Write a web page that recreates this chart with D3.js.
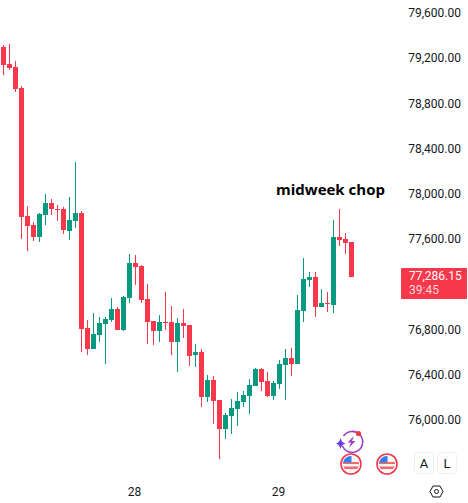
<!DOCTYPE html>
<html><head><meta charset="utf-8">
<script src="https://cdn.jsdelivr.net/npm/d3@7"></script>
<style>html,body{margin:0;padding:0;background:#fff}svg{display:block}text{font-family:Roboto,sans-serif}</style>
</head><body><div id="c"></div>
<script>
const opens=[79317,79167,79141,78955,77823,77744,77638,77832,77938,77885,77885,77691,77779,77850,76833,76648,76772,76869,76904,77001,76816,77099,77408,77382,77090,76895,76807,76887,76887,76710,76878,76860,76595,76621,76224,76374,76197,75941,76056,76117,76179,76232,76321,76471,76365,76232,76338,76506,76568,76515,76984,77258,77284,77019,77054,77037,77638,77620,77594];
const highs=[79335,79344,79194,78973,77912,77770,77850,78018,77974,77921,77903,77991,78301,77868,76904,76966,76931,76931,77099,77019,77116,77488,77479,77390,77222,76895,76948,77152,77028,76922,77001,76860,76692,76648,76418,76409,76197,76082,76206,76268,76277,76383,76480,76480,76445,76365,76551,76648,76657,77125,77452,77329,77329,77178,77152,77788,77885,77673,77594];
const lows=[79070,79114,78920,77620,77514,77602,77594,77744,77832,77779,77664,77611,77717,76621,76595,76648,76710,76515,76887,76816,76807,77054,77214,77054,76692,76683,76710,76816,76595,76445,76745,76498,76489,76135,76179,75985,75675,75852,75896,75967,76135,76073,76321,76277,76224,76197,76294,76197,76409,76515,76887,77196,76931,77019,76975,76966,77558,77488,77286.15];
const closes=[79158,79132,78946,77815,77735,77638,77841,77938,77885,77877,77700,77788,77850,76825,76648,76780,76878,76913,77001,76816,77108,77408,77373,77081,76887,76807,76887,76878,76710,76878,76851,76586,76621,76224,76374,76188,75941,76064,76126,76188,76241,76330,76471,76356,76232,76347,76515,76568,76515,76993,77267,77284,77019,77054,77046,77638,77611,77585,77286.15];
const priceTicks=[79600,79200,78800,78400,78000,77600,77200,76800,76400,76000];
const hiddenTick=77200;
const dateLabels=[{i:22,t:"28"},{i:46,t:"29"}];
const lastPrice=77286.15, countdown="39:45", note="midweek chop";
const W=468,H=503,UP="#089981",DOWN="#f7374a";

const svg=d3.select("#c").append("svg").attr("width",W).attr("height",H);
const x=d3.scaleLinear().domain([0,1]).range([3.5,9.5]);
const y=d3.scaleLinear().domain([79600,76000]).range([15,422.25]);
const fmt=d3.format(",.2f");
const col=i=>closes[i]>=opens[i]?UP:DOWN;

const g=svg.append("g").attr("shape-rendering","crispEdges");
const idx=d3.range(opens.length);
g.selectAll("rect.w").data(idx).join("rect").attr("class","w")
 .attr("x",i=>x(i)-0.5).attr("width",1)
 .attr("y",i=>Math.round(y(highs[i]))).attr("height",i=>Math.round(y(lows[i]))-Math.round(y(highs[i])))
 .attr("fill",col);
g.selectAll("rect.b").data(idx).join("rect").attr("class","b")
 .attr("x",i=>x(i)-2.5).attr("width",5)
 .attr("y",i=>Math.round(y(Math.max(opens[i],closes[i]))))
 .attr("height",i=>Math.max(1,Math.round(y(Math.min(opens[i],closes[i])))-Math.round(y(Math.max(opens[i],closes[i])))))
 .attr("fill",col);

// price axis labels
svg.append("g").selectAll("text").data(priceTicks.filter(t=>t!==hiddenTick)).join("text")
 .attr("x",461).attr("y",t=>y(t)+2).attr("text-anchor","end")
 .attr("font-size",12).attr("fill","#131722").text(fmt);

// date labels
svg.append("g").selectAll("text").data(dateLabels).join("text")
 .attr("x",d=>x(d.i)-1).attr("y",495.5).attr("text-anchor","middle")
 .attr("font-size",12).attr("fill","#131722").text(d=>d.t);

// annotation
svg.append("text").attr("x",276).attr("y",195).attr("font-size",15).attr("font-weight",700)
 .style("font-family","'Open Sans',sans-serif").attr("fill","#000").text(note);

// last price box
svg.append("rect").attr("x",401).attr("y",268).attr("width",66).attr("height",31).attr("rx",1).attr("fill",DOWN);
svg.append("text").attr("x",409).attr("y",279.5).attr("font-size",12).attr("font-weight",400).attr("fill","#fff").text(fmt(lastPrice));
svg.append("text").attr("x",409).attr("y",294).attr("font-size",12).attr("fill","#ffd5da").text(countdown);

// lightning badge
const ic=svg.append("g");
ic.append("path").attr("d","M343.5 436 A10.5 10.5 0 1 1 342.5 446").attr("fill","none").attr("stroke","#9c3fc4").attr("stroke-width",1.6);
ic.append("path").attr("d","M354 436 L347.5 442.5 L351 442.5 L349 447.5 L355.5 441 L352 441 Z").attr("fill","#9c3fc4");
ic.append("path").attr("d","M340.5 438 Q341.5 442.5 345.5 443.5 Q341.5 444.5 340.5 449 Q339.5 444.5 336 443.5 Q339.5 442.5 340.5 438Z").attr("fill","#6a3de8");
ic.append("circle").attr("cx",358.5).attr("cy",433.5).attr("r",2.6).attr("fill","#f23645");

// flags
[351,387].forEach(cx=>{
 const f=svg.append("g");
 const id="cl"+cx;
 f.append("clipPath").attr("id",id).append("circle").attr("cx",cx).attr("cy",464).attr("r",8);
 f.append("circle").attr("cx",cx).attr("cy",464).attr("r",10).attr("fill","#fff").attr("stroke","#f7374a").attr("stroke-width",1.6);
 const c=f.append("g").attr("clip-path",`url(#${id})`);
 c.append("rect").attr("x",cx-8).attr("y",456).attr("width",16).attr("height",16).attr("fill","#f5f5f5");
 c.append("rect").attr("x",cx-8).attr("y",462).attr("width",16).attr("height",2).attr("fill","#f26a6a");
 c.append("rect").attr("x",cx-8).attr("y",466.5).attr("width",16).attr("height",2.5).attr("fill","#f26a6a");
 c.append("rect").attr("x",cx-8).attr("y",456).attr("width",8.5).attr("height",6.5).attr("fill","#2f80ed");
});

// A / L buttons
[["A",424],["L",447]].forEach(([t,cx])=>{
 svg.append("rect").attr("x",cx-9.5).attr("y",452.5).attr("width",19).attr("height",21).attr("rx",3.5).attr("fill","#fff").attr("stroke","#eeeff2");
 svg.append("text").attr("x",cx).attr("y",468).attr("text-anchor","middle").attr("font-size",13).attr("fill","#131722").text(t);
});

// settings hexagon
svg.append("path").attr("d","M430 491.5 L433 486 L440 486 L443 491.5 L440 497 L433 497 Z").attr("fill","none").attr("stroke","#131722").attr("stroke-width",1);
svg.append("circle").attr("cx",436.5).attr("cy",491.5).attr("r",2).attr("fill","none").attr("stroke","#131722");
</script></body></html>
